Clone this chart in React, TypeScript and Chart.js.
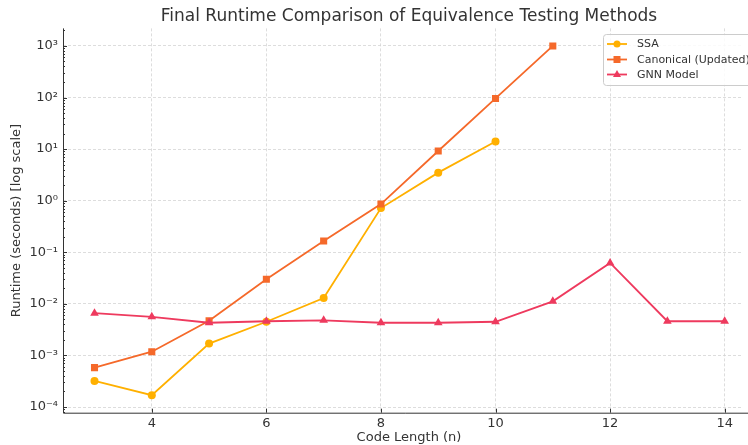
import React, { useEffect, useRef } from 'react';
import { Chart, registerables } from 'chart.js';

Chart.register(...registerables);

const codeLengths = [3, 4, 5, 6, 7, 8, 9, 10, 11, 12, 13, 14];
const ssaRuntime = [3.2e-4, 1.7e-4, 1.7e-3, 4.5e-3, 0.013, 0.72, 3.5, 14];
const canonicalRuntime = [5.8e-4, 1.18e-3, 4.7e-3, 0.03, 0.166, 0.86, 9.2, 96, 1000];
const gnnRuntime = [6.6e-3, 5.6e-3, 4.3e-3, 4.6e-3, 4.8e-3, 4.3e-3, 4.3e-3, 4.5e-3, 0.0112, 0.062, 4.6e-3, 4.6e-3];
const xTickValues = [4, 6, 8, 10, 12, 14];
const yDecades = [-4, -3, -2, -1, 0, 1, 2, 3];
const seriesNames = ['SSA', 'Canonical (Updated)', 'GNN Model'];
const seriesColors = ['#FFB000', '#F5692A', '#EE3A5E'];
const seriesMarkers = ['circle', 'rect', 'triangle'];
const titleText = 'Final Runtime Comparison of Equivalence Testing Methods';
const xTitle = 'Code Length (n)';
const yTitle = 'Runtime (seconds) [log scale]';

const FONT = '"DejaVu Sans", "Liberation Sans", sans-serif';
const TEXT = '#333333';
const SUP: Record<string, string> = { '-': '\u207B', '0': '\u2070', '1': '\u00B9', '2': '\u00B2', '3': '\u00B3', '4': '\u2074', '5': '\u2075', '6': '\u2076', '7': '\u2077', '8': '\u2078', '9': '\u2079' };
const sup = (n: number) => String(n).split('').map((c) => SUP[c] || c).join('');

const isDecade = (v: number) => Math.abs(Math.log10(v) - Math.round(Math.log10(v))) < 1e-9;

const toPoints = (ys: number[]) => ys.map((y, i) => ({ x: codeLengths[i], y }));

const decorPlugin = {
  id: 'decor',
  afterDraw(chart: any) {
    const { ctx, chartArea, scales } = chart;
    const xs = scales.x;
    const ys = scales.y;
    ctx.save();
    // title (centered on the axes like matplotlib)
    ctx.fillStyle = TEXT;
    ctx.font = `17px ${FONT}`;
    ctx.textAlign = 'center';
    ctx.textBaseline = 'middle';
    ctx.fillText(titleText, 409, 17);
    ctx.font = `13px ${FONT}`;
    ctx.fillText(xTitle, 409, 437.5);
    // spines
    ctx.strokeStyle = TEXT;
    ctx.lineWidth = 1;
    ctx.setLineDash([]);
    ctx.beginPath();
    ctx.moveTo(chartArea.left + 0.5, chartArea.top);
    ctx.lineTo(chartArea.left + 0.5, chartArea.bottom + 0.5);
    ctx.lineTo(748, chartArea.bottom + 0.5);
    ctx.stroke();
    // inward ticks
    ys.ticks.forEach((t: any) => {
      const p = Math.round(ys.getPixelForValue(t.value)) + 0.5;
      const len = isDecade(t.value) ? 4 : 2;
      ctx.beginPath();
      ctx.moveTo(chartArea.left, p);
      ctx.lineTo(chartArea.left + len, p);
      ctx.stroke();
    });
    xs.ticks.forEach((t: any) => {
      const p = Math.round(xs.getPixelForValue(t.value)) + 0.5;
      ctx.beginPath();
      ctx.moveTo(p, chartArea.bottom);
      ctx.lineTo(p, chartArea.bottom - 4);
      ctx.stroke();
    });
    // legend
    const bx = 603.5, by = 34.5, bw = 160, bh = 51;
    ctx.fillStyle = 'rgba(255,255,255,0.85)';
    ctx.strokeStyle = '#cccccc';
    ctx.lineWidth = 1;
    ctx.beginPath();
    (ctx as any).roundRect(bx, by, bw, bh, 3);
    ctx.fill();
    ctx.stroke();
    ctx.font = `11px ${FONT}`;
    ctx.textBaseline = 'middle';
    ctx.textAlign = 'left';
    const rows = [44, 59.5, 74.5];
    seriesNames.forEach((name, i) => {
      const y = rows[i];
      ctx.strokeStyle = seriesColors[i];
      ctx.fillStyle = seriesColors[i];
      ctx.lineWidth = 1.8;
      ctx.beginPath();
      ctx.moveTo(607, y);
      ctx.lineTo(627, y);
      ctx.stroke();
      ctx.beginPath();
      if (seriesMarkers[i] === 'circle') {
        ctx.arc(617, y, 3.5, 0, Math.PI * 2);
      } else if (seriesMarkers[i] === 'rect') {
        ctx.rect(613.5, y - 3.5, 7, 7);
      } else {
        ctx.moveTo(617, y - 4.5);
        ctx.lineTo(621, y + 2.5);
        ctx.lineTo(613, y + 2.5);
        ctx.closePath();
      }
      ctx.fill();
      ctx.fillStyle = TEXT;
      ctx.fillText(name, 637, y + 0.5);
    });
    ctx.restore();
  },
};

export default function App() {
  const canvasRef = useRef<HTMLCanvasElement | null>(null);

  useEffect(() => {
    if (!canvasRef.current) return;
    const makeDs = (i: number, data: number[], order: number) => ({
      label: seriesNames[i],
      data: toPoints(data),
      borderColor: seriesColors[i],
      backgroundColor: seriesColors[i],
      pointBackgroundColor: seriesColors[i],
      pointBorderColor: seriesColors[i],
      pointStyle: seriesMarkers[i],
      pointRadius: seriesMarkers[i] === 'circle' ? 4 : 5,
      pointBorderWidth: 0,
      borderWidth: 1.8,
      tension: 0,
      order,
    });
    const chart = new Chart(canvasRef.current, {
      type: 'line',
      data: {
        datasets: [
          makeDs(0, ssaRuntime, 2),
          makeDs(1, canonicalRuntime, 1),
          makeDs(2, gnnRuntime, 0),
        ],
      },
      plugins: [decorPlugin],
      options: {
        animation: false,
        responsive: false,
        devicePixelRatio: 1,
        layout: { padding: { top: 28.4, left: 0, right: 0, bottom: 0 } },
        plugins: {
          legend: { display: false },
          tooltip: { enabled: false },
          title: { display: false },
        },
        scales: {
          x: {
            type: 'linear',
            min: 2.45,
            max: 14.32,
            afterBuildTicks: (scale: any) => {
              scale.ticks = xTickValues.map((v) => ({ value: v }));
            },
            afterFit: (scale: any) => {
              scale.height = 32.3;
            },
            grid: { color: '#d4d4d4', lineWidth: 0.8, drawTicks: false },
            border: { display: false, dash: [3, 2] },
            ticks: {
              color: TEXT,
              font: { family: FONT, size: 13 },
              padding: 3,
              autoSkip: false,
              maxRotation: 0,
              callback: (v: any) => String(v),
            },
            title: { display: false },
          },
          y: {
            type: 'logarithmic',
            min: Math.pow(10, -4.11),
            max: Math.pow(10, 3.34),
            afterBuildTicks: (scale: any) => {
              const ticks: any[] = [];
              for (const d of [-5, ...yDecades]) {
                for (let m = 1; m <= 9; m++) {
                  const v = m * Math.pow(10, d);
                  if (v >= scale.min && v <= scale.max) ticks.push({ value: v, major: m === 1 });
                }
              }
              scale.ticks = ticks;
            },
            afterFit: (scale: any) => {
              scale.width = 63;
            },
            grid: {
              color: (ctx: any) => (ctx.tick && isDecade(ctx.tick.value) ? '#d4d4d4' : 'rgba(0,0,0,0)'),
              lineWidth: 0.8,
              drawTicks: false,
            },
            border: { display: false, dash: [3, 2] },
            ticks: {
              color: TEXT,
              font: { family: FONT, size: 13 },
              padding: 5,
              autoSkip: false,
              callback: (v: any) => (isDecade(Number(v)) ? '10' + sup(Math.round(Math.log10(Number(v)))) : ''),
            },
            title: {
              display: true,
              text: yTitle,
              color: TEXT,
              font: { family: FONT, size: 13 },
              padding: { top: 9, bottom: 0 },
            },
          },
        },
      } as any,
    });
    return () => chart.destroy();
  }, []);

  return (
    <div style={{ position: 'absolute', left: 0, top: 0, width: 748, height: 445, background: '#fff' }}>
      <canvas ref={canvasRef} width={748} height={445} style={{ display: 'block', width: 748, height: 445 }} />
    </div>
  );
}
